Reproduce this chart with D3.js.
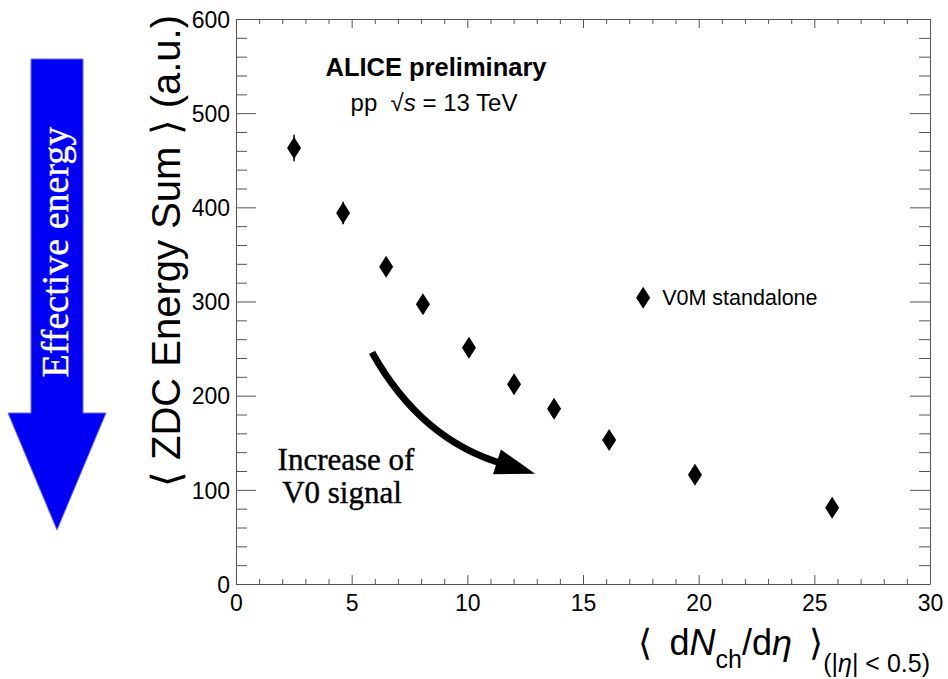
<!doctype html>
<html>
  <head>
    <meta charset="utf-8">
    <script src="https://cdn.jsdelivr.net/npm/d3@7"></script>
    <style>
      body { margin: 0; background: white; }
      svg { display: block; }
      .tick text { font-family: "Liberation Sans", Arial, sans-serif; }
      .sans { font-family: "Liberation Sans", Arial, sans-serif; }
      .serif { font-family: "Liberation Serif", "Times New Roman", serif; }
    </style>
  </head>
  <body>
    <svg id="chart"></svg>
    <script>
      // <dNch/deta> of each V0M class and the mean ZDC energy sum
      const dndeta = [2.51, 4.63, 6.49, 8.08, 10.07, 12.02, 13.75, 16.13, 19.84, 25.77]
      const zdcSum = [463, 394, 337, 297, 251, 212, 186, 153, 116, 81]
      const zdcErr = [14, 12, 6, 5, 5, 4, 4, 4, 4, 4]

      const xTicks = [0, 5, 10, 15, 20, 25, 30]
      const yTicks = [0, 100, 200, 300, 400, 500, 600]

      const W = 948, H = 679
      const margin = { top: 19, right: 18, bottom: 95, left: 236 }
      const width = W - margin.left - margin.right,
            height = H - margin.top - margin.bottom

      const svg = d3.select("#chart").attr("width", W).attr("height", H)

      const x = d3.scaleLinear().domain([0, 30]).range([0, width])
      const y = d3.scaleLinear().domain([0, 600]).range([height, 0])

      const g = svg.append("g")
          .attr("transform", "translate(" + margin.left + "," + margin.top + ")")

      const axisColor = "#555"

      // minor ticks first, then major ticks with labels
      function drawAxis(axisFn, scale, ticks, minorTicks, major, minor, labels, tr) {
        const minorG = g.append("g").attr("transform", tr)
          .call(axisFn(scale).tickValues(minorTicks).tickSize(minor).tickFormat("").tickSizeOuter(0))
        minorG.select(".domain").remove()
        const majorG = g.append("g").attr("transform", tr)
          .call(axisFn(scale).tickValues(ticks).tickSize(major).tickSizeOuter(0)
            .tickFormat(labels ? d3.format("d") : ""))
        majorG.selectAll("line, path").attr("stroke", axisColor)
        minorG.selectAll("line").attr("stroke", axisColor)
        return majorG
      }

      const xMinor = d3.range(0, 31, 1).filter(d => d % 5 !== 0)
      const yMinor = d3.range(0, 601, 20).filter(d => d % 100 !== 0)

      // bottom axis: ticks point inward (up)
      const xb = drawAxis(d3.axisTop, x, xTicks, xMinor, 9, 5, true, "translate(0," + height + ")")
      xb.selectAll(".tick text").attr("y", 27).attr("dy", 0).attr("font-size", 23).attr("fill", "#000")
      // top axis mirror
      drawAxis(d3.axisBottom, x, xTicks, xMinor, 9, 5, false, "translate(0,0)")

      // left axis: ticks inward (right)
      const yl = drawAxis(d3.axisRight, y, yTicks, yMinor, 20, 11, true, "translate(0,0)")
      yl.selectAll(".tick text").attr("x", -6).attr("text-anchor", "end")
        .attr("dy", "0.36em").attr("font-size", 23).attr("fill", "#000")
      // right axis mirror
      drawAxis(d3.axisLeft, y, yTicks, yMinor, 20, 11, false, "translate(" + width + ",0)")

      // data
      const pts = dndeta.map((d, i) => ({ x: d, y: zdcSum[i], e: zdcErr[i] }))

      g.selectAll(".err").data(pts).enter().append("line")
        .attr("class", "err")
        .attr("x1", d => x(d.x)).attr("x2", d => x(d.x))
        .attr("y1", d => y(d.y + d.e)).attr("y2", d => y(d.y - d.e))
        .attr("stroke", "#000").attr("stroke-width", 1.5)

      const diamond = "M0,-11L7,0L0,11L-7,0Z"
      g.selectAll(".pt").data(pts).enter().append("path")
        .attr("class", "pt")
        .attr("d", diamond)
        .attr("transform", d => "translate(" + x(d.x) + "," + y(d.y) + ")")
        .attr("fill", "#000")

      // legend
      const leg = g.append("g").attr("transform", "translate(" + x(17.6) + "," + y(304) + ")")
      leg.append("path").attr("d", diamond).attr("fill", "#000")
      leg.append("text").attr("class", "sans").attr("x", 19).attr("dy", "0.36em")
        .attr("font-size", 21.5).text("V0M standalone")

      // title texts
      svg.append("text").attr("class", "sans")
        .attr("x", 436).attr("y", 76).attr("text-anchor", "middle")
        .attr("font-size", 25.5).attr("font-weight", "bold").text("ALICE preliminary")
      const sub = svg.append("text").attr("class", "sans")
        .attr("x", 434).attr("y", 111).attr("text-anchor", "middle").attr("font-size", 24)
      sub.append("tspan").text("pp\u00A0\u00A0\u221A")
      sub.append("tspan").attr("font-style", "italic").text("s")
      sub.append("tspan").text("\u00A0= 13 TeV")

      // axis titles
      svg.append("text").attr("class", "sans")
        .attr("transform", "translate(180,15) rotate(-90)")
        .attr("text-anchor", "end").attr("font-size", 40)
        .text("\u27E8 ZDC Energy Sum \u27E9 (a.u.)")

      const xt = svg.append("text").attr("class", "sans")
        .attr("x", 930).attr("y", 655).attr("text-anchor", "end").attr("font-size", 36)
      xt.append("tspan").text("\u27E8\u2009 d")
      xt.append("tspan").attr("font-style", "italic").text("N")
      xt.append("tspan").attr("font-size", 25).attr("dy", 13).text("ch")
      xt.append("tspan").attr("dy", -13).text("/d")
      xt.append("tspan").attr("font-style", "italic").text("\u03B7")
      xt.append("tspan").text("\u2009 \u27E9")
      xt.append("tspan").attr("font-size", 25).attr("dy", 17).text("(|")
      xt.append("tspan").attr("font-size", 25).attr("font-style", "italic").text("\u03B7")
      xt.append("tspan").attr("font-size", 25).text("| < 0.5)")

      // curved black arrow, in data units
      const arrowStart = [5.88, 246], arrowCtrl = [8.02, 152], arrowEnd = [11.63, 127], arrowTip = [12.93, 117]
      const p0 = [x(arrowStart[0]), y(arrowStart[1])],
            c = [x(arrowCtrl[0]), y(arrowCtrl[1])],
            p2 = [x(arrowEnd[0]), y(arrowEnd[1])],
            tip = [x(arrowTip[0]), y(arrowTip[1])]
      g.append("path")
        .attr("d", "M" + p0 + "Q" + c + " " + p2)
        .attr("fill", "none").attr("stroke", "#000").attr("stroke-width", 7)
      const dx = tip[0] - p2[0], dy = tip[1] - p2[1], len = Math.hypot(dx, dy)
      const ux = dx / len, uy = dy / len
      const back = [tip[0] - ux * 40, tip[1] - uy * 40]
      g.append("path")
        .attr("d", "M" + tip + "L" + [back[0] - uy * 13, back[1] + ux * 13] +
                   "L" + [back[0] + uy * 13, back[1] - ux * 13] + "Z")
        .attr("fill", "#000")

      const inc = svg.append("text").attr("class", "serif")
        .attr("text-anchor", "middle").attr("font-size", 31)
        .attr("stroke", "#000").attr("stroke-width", 0.4)
      inc.append("tspan").attr("x", 346).attr("y", 470).text("Increase of")
      inc.append("tspan").attr("x", 342).attr("y", 503).text("V0 signal")

      // blue arrow on the left
      svg.append("path")
        .attr("d", "M31,59L83,59L83,413L106,413L57,530L8,413L31,413Z")
        .attr("fill", "#0000f5").attr("stroke", "#6a6aff").attr("stroke-width", 1)
      svg.append("text").attr("class", "serif")
        .attr("transform", "translate(68,252) rotate(-90)")
        .attr("text-anchor", "middle").attr("font-size", 38).attr("fill", "#fff")
        .attr("stroke", "#fff").attr("stroke-width", 0.4)
        .text("Effective energy")
    </script>
  </body>
</html>
